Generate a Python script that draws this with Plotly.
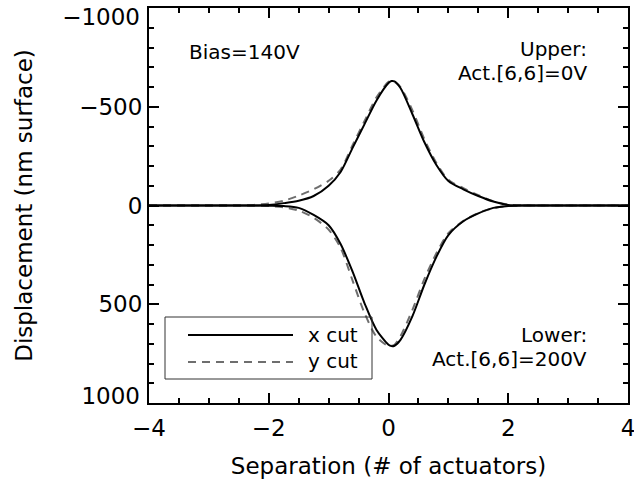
import plotly.graph_objects as go

# Separation (# of actuators)
sep = [-4.0, -3.0, -2.5, -2.25, -2.0, -1.75, -1.5, -1.25, -1.0, -0.8, -0.6, -0.4, -0.2,
       0.0, 0.05, 0.1, 0.2, 0.4, 0.6, 0.8, 1.0, 1.25, 1.5, 1.75, 2.0, 2.25, 2.5, 3.0, 4.0]

# Upper: Act.[6,6]=0V  (nm surface)
upper_x = [0, 0, 0, 0, -3, -12, -24, -48, -100, -170, -292, -412, -532,
           -620, -630, -628, -595, -462, -320, -205, -124, -82, -48, -20, -3, 0, 0, 0, 0]
upper_y = [0, 0, 0, -3, -10, -24, -50, -82, -125, -182, -305, -428, -548,
           -626, -630, -626, -600, -482, -335, -215, -130, -88, -52, -22, -4, -1, 0, 0, 0]

# Lower: Act.[6,6]=200V  (nm surface)
lower_x = [0, 0, 0, 0, 1, 3, 12, 48, 100, 195, 335, 495, 630,
           705, 712, 710, 680, 560, 400, 260, 150, 80, 40, 12, 2, 0, 0, 0, 0]
lower_y = [0, 0, 0, 1, 3, 9, 26, 62, 122, 215, 380, 545, 665,
           712, 710, 705, 662, 528, 372, 242, 140, 78, 38, 13, 3, 0, 0, 0, 0]

y_range = [1000, -1000]
y_ticks_mid = [-500, 0, 500]
y_tick_top = [-1000]
y_tick_bottom = [1000]

FONT = "DejaVu Sans"
fig = go.Figure()
solid = dict(color="black", width=2)
dashed = dict(color="#6e6e6e", width=2, dash="8px,6px")
for yv, ln in [(upper_y, dashed), (lower_y, dashed), (upper_x, solid), (lower_x, solid)]:
    fig.add_trace(go.Scatter(x=sep, y=yv, mode="lines", line=dict(**ln, shape="spline", smoothing=0.8),
                             showlegend=False, hoverinfo="skip"))
# invisible carriers so the end-label axes are drawn
for ya in ["y2", "y3"]:
    fig.add_trace(go.Scatter(x=[None], y=[None], yaxis=ya, mode="lines", showlegend=False, hoverinfo="skip"))

L, R, T, B = 149, 628, 8, 403
def px(x): return (x - L) / (R - L)
def py(y): return (B - y) / (B - T)

shapes = [
    dict(type="rect", xref="paper", yref="paper", x0=px(165), x1=px(372), y0=py(379), y1=py(317),
         line=dict(color="#333333", width=1)),
    dict(type="line", xref="paper", yref="paper", x0=px(188), x1=px(293), y0=py(335), y1=py(335),
         line=dict(color="black", width=2)),
    dict(type="line", xref="paper", yref="paper", x0=px(188), x1=px(293), y0=py(362), y1=py(362),
         line=dict(color="#6e6e6e", width=2, dash="8px,6px")),
]

ann_font = dict(family=FONT, size=20, color="black")
def ann(text, x, y, xanchor):
    return dict(text=text, xref="paper", yref="paper", x=px(x), y=py(y), xanchor=xanchor,
                yanchor="middle", showarrow=False, font=ann_font, borderpad=0)

annotations = [
    ann("Bias=140V", 188, 52, "left"),
    ann("Upper:", 588, 49, "right"),
    ann("Act.[6,6]=0V", 588, 73, "right"),
    ann("Lower:", 588, 335, "right"),
    ann("Act.[6,6]=200V", 588, 359, "right"),
    ann("x cut", 307, 335, "left"),
    ann("y cut", 307, 361, "left"),
]

tickfont = dict(family=FONT, size=23, color="black")
axis_common = dict(showline=True, linecolor="black", linewidth=2, mirror="ticks",
                   ticks="inside", ticklen=10, tickwidth=1.5, tickcolor="black",
                   showgrid=False, zeroline=False, automargin=False, tickfont=tickfont)
label_axis = dict(overlaying="y", range=y_range, showline=False, ticks="", showgrid=False,
                  zeroline=False, automargin=False, tickfont=tickfont, side="left",
                  ticklabeloverflow="allow", ticklabelstandoff=8)

fig.update_layout(
    width=634, height=485,
    margin=dict(l=L, r=634 - R, t=T, b=485 - B),
    plot_bgcolor="white", paper_bgcolor="white",
    shapes=shapes, annotations=annotations,
    xaxis=dict(range=[-4, 4], tickvals=[-4, -2, 0, 2, 4],
               minor=dict(dtick=0.5, ticks="inside", ticklen=5, tickwidth=1.5, tickcolor="black"),
               title=dict(text="Separation (# of actuators)", font=dict(family=FONT, size=23, color="black"), standoff=18),
               ticklabelstandoff=3, ticklabeloverflow="allow",
               **axis_common),
    yaxis=dict(range=y_range, tickvals=[-1000] + y_ticks_mid + [1000],
               ticktext=[""] + [f"{v}".replace("-", "\u2212") for v in y_ticks_mid] + [""],
               minor=dict(dtick=100, ticks="inside", ticklen=5, tickwidth=1.5, tickcolor="black"),
               title=dict(text="Displacement (nm surface)", font=dict(family=FONT, size=23, color="black"), standoff=40),
               **axis_common),
    yaxis2=dict(tickvals=y_tick_top, ticktext=["\u22121000"], ticklabelshift=-9, **label_axis),
    yaxis3=dict(tickvals=y_tick_bottom, ticktext=["1000"], ticklabelshift=7, **label_axis),
)
fig.write_html("out.html")
